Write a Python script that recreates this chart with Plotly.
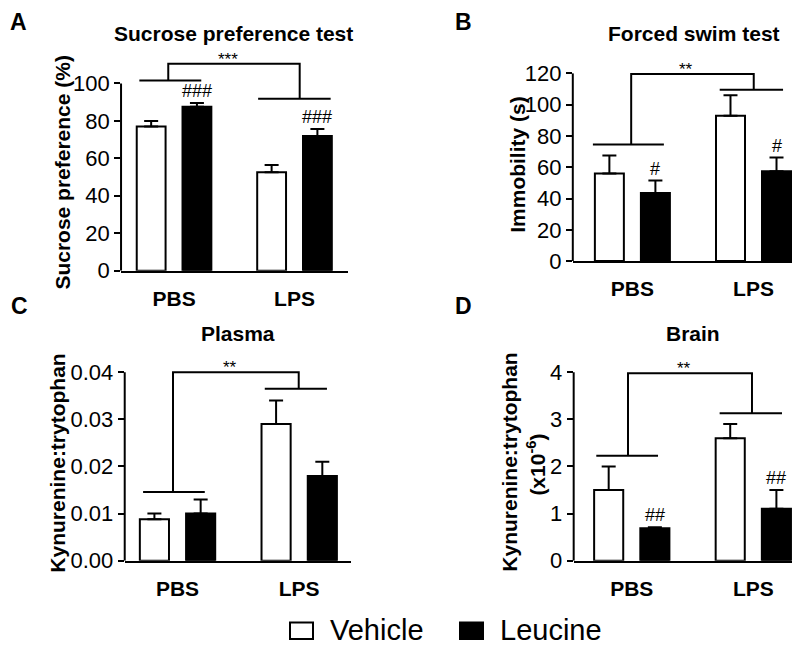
import plotly.graph_objects as go

# ---------------- data ----------------
groups = ["PBS", "LPS"]
series_names = ["Vehicle", "Leucine"]

sucrose_vehicle = [77, 52.5]
sucrose_vehicle_sem = [3, 4]
sucrose_leucine = [87.5, 72]
sucrose_leucine_sem = [2, 3.7]

swim_vehicle = [56, 93]
swim_vehicle_sem = [11.5, 13]
swim_leucine = [43.5, 57.5]
swim_leucine_sem = [8, 8.7]

plasma_vehicle = [0.0088, 0.029]
plasma_vehicle_sem = [0.0012, 0.005]
plasma_leucine = [0.010, 0.018]
plasma_leucine_sem = [0.003, 0.003]

brain_vehicle = [1.5, 2.6]
brain_vehicle_sem = [0.5, 0.3]
brain_leucine = [0.69, 1.1]
brain_leucine_sem = [0.02, 0.4]

marks_A = ["###", "###"]
marks_B = ["#", "#"]
marks_C = ["", ""]
marks_D = ["##", "##"]

ticks_A = [0, 20, 40, 60, 80, 100]
ticks_B = [0, 20, 40, 60, 80, 100, 120]
ticks_C = [0, 0.01, 0.02, 0.03, 0.04]
ticks_D = [0, 1, 2, 3, 4]

# ---------------- layout config ----------------
FONT = "Arial, Liberation Sans, Helvetica, sans-serif"
BARGAP = 0.24
BARGROUPGAP = 0.37
LEU_OFFSET = (1 - BARGAP) / 4  # centre offset of the second bar in a group

panels = [
    dict(sfx="", title="Sucrose preference test", letter="A",
         veh=sucrose_vehicle, veh_sem=sucrose_vehicle_sem,
         leu=sucrose_leucine, leu_sem=sucrose_leucine_sem, marks=marks_A,
         ticks=ticks_A, fmt="", xdom=[0.1413, 0.425], ydom=[0.5851, 0.9399],
         xr=[-0.44, 1.444], yr=[0, 120],
         br=dict(l=[-0.288, 0.226, 101.6], lv=-0.048, r=[0.698, 1.30, 91.8], rv=1.043, top=110.6, star="***")),
    dict(sfx="2", title="Forced swim test", letter="B",
         veh=swim_vehicle, veh_sem=swim_vehicle_sem,
         leu=swim_leucine, leu_sem=swim_leucine_sem, marks=marks_B,
         ticks=ticks_B, fmt="", xdom=[0.706, 1.0], ydom=[0.6002, 0.9461],
         xr=[-0.492, 1.45], yr=[0, 140],
         br=dict(l=[-0.326, 0.26, 74.5], lv=-0.01, r=[0.721, 1.244, 109.6], rv=1.002, top=119.6, star="**")),
    dict(sfx="3", title="Plasma", letter="C",
         veh=plasma_vehicle, veh_sem=plasma_vehicle_sem,
         leu=plasma_leucine, leu_sem=plasma_leucine_sem, marks=marks_C,
         ticks=ticks_C, fmt=".2f", xdom=[0.1459, 0.4288], ydom=[0.1269, 0.4692],
         xr=[-0.434, 1.426], yr=[0, 0.046],
         br=dict(l=[-0.283, 0.224, 0.01456], lv=-0.037, r=[0.717, 1.228, 0.0365], rv=0.996, top=0.040, star="**")),
    dict(sfx="4", title="Brain", letter="D",
         veh=brain_vehicle, veh_sem=brain_vehicle_sem,
         leu=brain_leucine, leu_sem=brain_leucine_sem, marks=marks_D,
         ticks=ticks_D, fmt="", xdom=[0.7071, 1.0], ydom=[0.1269, 0.4692],
         xr=[-0.478, 1.45], yr=[0, 4.6],
         br=dict(l=[-0.292, 0.216, 2.23], lv=-0.031, r=[0.723, 1.236, 3.13], rv=0.989, top=3.98, star="**")),
]

W, H = 800, 646
fig = go.Figure()
shapes = []
annotations = []
layout_axes = {}

for p in panels:
    xa = "x" + p["sfx"]
    ya = "y" + p["sfx"]
    for name, vals, sem, color in [
        (series_names[0], p["veh"], p["veh_sem"], "white"),
        (series_names[1], p["leu"], p["leu_sem"], "black"),
    ]:
        fig.add_trace(go.Bar(
            x=groups, y=vals, name=name, xaxis=xa, yaxis=ya,
            marker=dict(color=color, line=dict(color="black", width=2)),
            error_y=dict(type="data", symmetric=False, array=sem,
                         arrayminus=[0] * len(sem), color="black",
                         thickness=2, width=7),
            showlegend=False,
        ))

    layout_axes["xaxis" + p["sfx"]] = dict(
        domain=p["xdom"], anchor=ya, range=p["xr"], type="category",
        showline=True, linewidth=2, linecolor="black", ticks="",
        showgrid=False, zeroline=False, ticklabelstandoff=8,
        tickfont=dict(family=FONT, size=21, color="black", weight="bold"),
        fixedrange=True,
    )
    layout_axes["yaxis" + p["sfx"]] = dict(
        domain=p["ydom"], anchor=xa, range=p["yr"], showline=False,
        showgrid=False, zeroline=False, ticks="outside", ticklen=6,
        tickwidth=2, tickcolor="black", tickvals=p["ticks"],
        tickformat=p["fmt"] if p["fmt"] else None,
        tickfont=dict(family=FONT, size=22, color="black"),
        fixedrange=True,
    )
    # y axis line from 0 up to the top tick
    shapes.append(dict(type="line", xref=xa + " domain", yref=ya,
                       x0=0, x1=0, y0=0, y1=p["ticks"][-1],
                       line=dict(color="black", width=2)))
    # significance bracket
    b = p["br"]
    line = dict(color="black", width=2)
    shapes.append(dict(type="line", xref=xa, yref=ya, x0=b["l"][0], x1=b["l"][1],
                       y0=b["l"][2], y1=b["l"][2], line=line))
    shapes.append(dict(type="line", xref=xa, yref=ya, x0=b["r"][0], x1=b["r"][1],
                       y0=b["r"][2], y1=b["r"][2], line=line))
    shapes.append(dict(type="path", xref=xa, yref=ya,
                       path=f"M {b['lv']} {b['l'][2]} L {b['lv']} {b['top']} "
                            f"L {b['rv']} {b['top']} L {b['rv']} {b['r'][2]}",
                       line=line))
    annotations.append(dict(xref=xa, yref=ya, x=(b["lv"] + b["rv"]) / 2 - 0.05, y=b["top"],
                            text=b["star"], showarrow=False, yanchor="bottom",
                            yshift=-7, font=dict(family=FONT, size=17, color="black")))
    # '#' marks above leucine bars
    for i, m in enumerate(p["marks"]):
        if m:
            annotations.append(dict(xref=xa, yref=ya, x=i + LEU_OFFSET,
                                    y=p["leu"][i] + p["leu_sem"][i], text=m,
                                    showarrow=False, yanchor="bottom", yshift=0,
                                    font=dict(family=FONT, size=18, color="black")))

# panel titles and letters (paper coordinates from pixel positions)
def px(x):
    return x / W

def py(y):
    return 1 - y / H

titles = [("Sucrose preference test", 226, 26), ("Forced swim test", 686, 26),
          ("Plasma", 230, 332), ("Brain", 685, 332)]
for t, x, y in titles:
    annotations.append(dict(xref="paper", yref="paper", x=px(x), y=py(y), text=t,
                            showarrow=False, xanchor="center", yanchor="middle",
                            font=dict(family=FONT, size=21, color="black", weight="bold")))

letters = [("A", 10, 14), ("B", 456, 14), ("C", 11, 304), ("D", 456, 304)]
for t, x, y in letters:
    annotations.append(dict(xref="paper", yref="paper", x=px(x), y=py(y), text=t,
                            showarrow=False, xanchor="center", yanchor="middle",
                            font=dict(family=FONT, size=23, color="black", weight="bold")))

ytitles = [("Sucrose preference (%)", 55, 168), ("Immobility (s)", 510, 159),
           ("Kynurenine:trytophan", 50, 465), ("Kynurenine:trytophan", 502, 463),
           ("(x10<sup>-6</sup>)", 528, 466)]
for t, x, y in ytitles:
    annotations.append(dict(xref="paper", yref="paper", x=px(x), y=py(y), text=t,
                            showarrow=False, xanchor="center", yanchor="middle",
                            textangle=-90,
                            font=dict(family=FONT, size=21, color="black", weight="bold")))

# legend (drawn manually to match the large swatches)
legend_items = [(series_names[0], "white", 282), (series_names[1], "black", 452)]
for name, color, x in legend_items:
    shapes.append(dict(type="rect", xref="paper", yref="paper",
                       x0=px(x), x1=px(x + 23), y0=py(644), y1=py(627),
                       fillcolor=color, line=dict(color="black", width=2)))
    annotations.append(dict(xref="paper", yref="paper", x=px(x + 38), y=py(635),
                            text=name, showarrow=False, xanchor="left", yanchor="middle",
                            font=dict(family=FONT, size=29, color="black")))

fig.update_layout(
    width=W, height=H, margin=dict(l=0, r=0, t=0, b=0),
    paper_bgcolor="white", plot_bgcolor="white",
    barmode="group", bargap=BARGAP, bargroupgap=BARGROUPGAP,
    showlegend=False, shapes=shapes, annotations=annotations,
    **layout_axes,
)

fig.write_html("out.html")
